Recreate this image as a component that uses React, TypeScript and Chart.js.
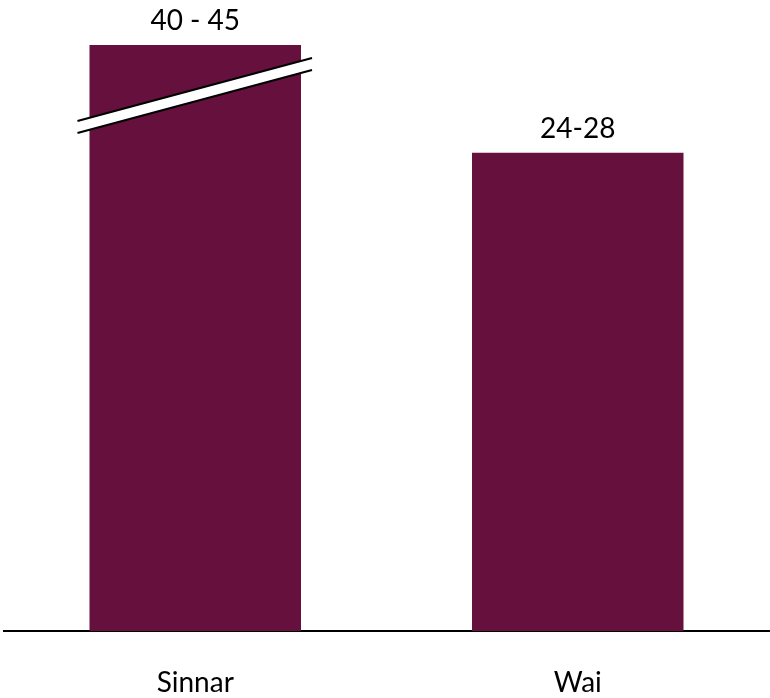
import React, { useEffect, useRef } from "react";
import { Chart, registerables } from "chart.js";

Chart.register(...registerables);

// Town categories and their reported ranges
const categories: string[] = ["Sinnar", "Wai"];
const rangeLow: number[] = [40, 24];
const rangeHigh: number[] = [45, 28];
const rangeLabels: string[] = ["40 - 45", "24-28"];

// Visible value axis is cut short; bars above this value are shown broken
const axisMax = 34.3;

const barColor = "#66103D";
const fontFamily = "Lato, 'Open Sans', sans-serif";
const fontSize = 28;

// Writes each range label above its bar
const valueLabels = {
  id: "valueLabels",
  afterDatasetsDraw(chart: any) {
    const { ctx } = chart;
    const meta = chart.getDatasetMeta(0);
    ctx.save();
    ctx.font = `${fontSize}px ${fontFamily}`;
    ctx.fillStyle = "#000";
    ctx.textAlign = "center";
    ctx.textBaseline = "alphabetic";
    meta.data.forEach((bar: any, i: number) => {
      const top = Math.max(bar.y, chart.chartArea.top);
      ctx.fillText(rangeLabels[i], bar.x, top - 15);
    });
    ctx.restore();
  },
};

// Diagonal break mark over bars that run past the axis maximum
const breakMark = {
  id: "breakMark",
  afterDatasetsDraw(chart: any) {
    const { ctx, chartArea } = chart;
    const meta = chart.getDatasetMeta(0);
    const ds = chart.data.datasets[0].data as number[];
    meta.data.forEach((bar: any, i: number) => {
      if (ds[i] <= axisMax) return;
      const half = bar.width / 2;
      const x0 = bar.x - half - 12;
      const x1 = bar.x + half + 11;
      const top = chartArea.top;
      const yL = top + 76;
      const yR = top + 13;
      const gap = 12;
      ctx.save();
      ctx.fillStyle = "#fff";
      ctx.beginPath();
      ctx.moveTo(x0, yL);
      ctx.lineTo(x1, yR);
      ctx.lineTo(x1, yR + gap);
      ctx.lineTo(x0, yL + gap);
      ctx.closePath();
      ctx.fill();
      ctx.strokeStyle = "#000";
      ctx.lineWidth = 2.2;
      ctx.beginPath();
      ctx.moveTo(x0, yL);
      ctx.lineTo(x1, yR);
      ctx.moveTo(x0, yL + gap);
      ctx.lineTo(x1, yR + gap);
      ctx.stroke();
      ctx.restore();
    });
  },
};

export default function App() {
  const canvasRef = useRef<HTMLCanvasElement | null>(null);

  useEffect(() => {
    if (!canvasRef.current) return;
    const chart = new Chart(canvasRef.current, {
      type: "bar",
      data: {
        labels: categories,
        datasets: [
          {
            data: rangeHigh,
            backgroundColor: barColor,
            borderWidth: 0,
            categoryPercentage: 1,
            barPercentage: 0.553,
          },
        ],
      },
      options: {
        responsive: true,
        maintainAspectRatio: false,
        animation: false,
        layout: { padding: { left: 4, right: 1, top: 45, bottom: 0 } },
        plugins: {
          legend: { display: false },
          tooltip: { enabled: false },
        },
        scales: {
          x: {
            grid: { display: false, drawTicks: false },
            border: { display: true, color: "#000", width: 2 },
            ticks: {
              color: "#000",
              padding: 35,
              font: { family: fontFamily, size: fontSize },
            },
            afterFit(scale: any) {
              scale.height = 67;
            },
          },
          y: {
            display: false,
            min: 0,
            max: axisMax,
          },
        },
      },
      plugins: [valueLabels, breakMark],
    });
    return () => chart.destroy();
  }, []);

  return (
    <div
      style={{
        position: "absolute",
        left: 0,
        top: 0,
        width: 770,
        height: 698,
        background: "#fff",
      }}
    >
      <canvas ref={canvasRef} />
    </div>
  );
}
